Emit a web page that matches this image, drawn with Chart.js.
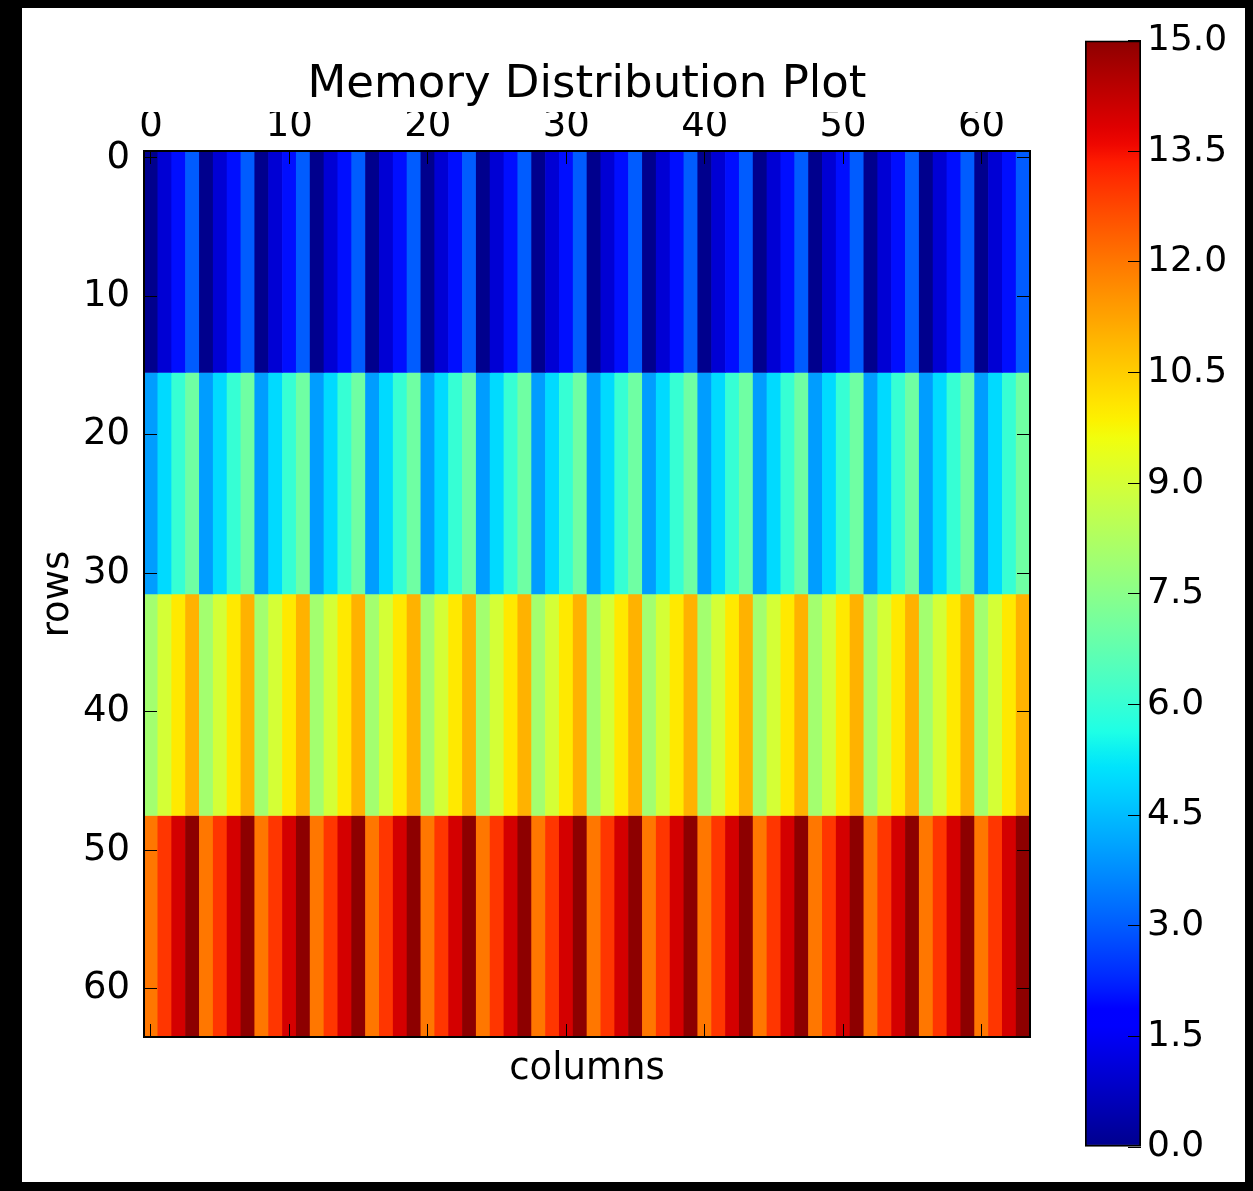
<!DOCTYPE html>
<html>
<head>
<meta charset="utf-8">
<title>Memory Distribution Plot</title>
<script src="https://cdn.jsdelivr.net/npm/chart.js@4.4.1/dist/chart.umd.min.js"></script>
<style>
  html, body { margin: 0; padding: 0; background: #000; }
  #page { position: relative; width: 1253px; height: 1191px; background: #000; overflow: hidden; }
  #sheet { position: absolute; left: 22px; top: 8px; width: 1223px; height: 1174px; background: #fff; }
  #heat { position: absolute; left: 0; top: 0; }
  #cbar { position: absolute; left: 1060px; top: 0; }
</style>
</head>
<body>
<div id="page">
  <div id="sheet"></div>
  <canvas id="heat" width="1060" height="1191"></canvas>
  <canvas id="cbar" width="193" height="1191"></canvas>
</div>
<script>
// chart text
const plotTitle = 'Memory Distribution Plot';
const xLabel = 'columns';
const yLabel = 'rows';

// row ranges of the four horizontal bands (row indices, inclusive)
const bandRows = [[0, 15], [16, 31], [32, 47], [48, 63]];

// value of every column, one list per band
const band0 = [
  0, 1, 2, 3, 0, 1, 2, 3, 0, 1, 2, 3, 0, 1, 2, 3,
  0, 1, 2, 3, 0, 1, 2, 3, 0, 1, 2, 3, 0, 1, 2, 3,
  0, 1, 2, 3, 0, 1, 2, 3, 0, 1, 2, 3, 0, 1, 2, 3,
  0, 1, 2, 3, 0, 1, 2, 3, 0, 1, 2, 3, 0, 1, 2, 3
];
const band1 = [
  4, 5, 6, 7, 4, 5, 6, 7, 4, 5, 6, 7, 4, 5, 6, 7,
  4, 5, 6, 7, 4, 5, 6, 7, 4, 5, 6, 7, 4, 5, 6, 7,
  4, 5, 6, 7, 4, 5, 6, 7, 4, 5, 6, 7, 4, 5, 6, 7,
  4, 5, 6, 7, 4, 5, 6, 7, 4, 5, 6, 7, 4, 5, 6, 7
];
const band2 = [
  8, 9, 10, 11, 8, 9, 10, 11, 8, 9, 10, 11, 8, 9, 10, 11,
  8, 9, 10, 11, 8, 9, 10, 11, 8, 9, 10, 11, 8, 9, 10, 11,
  8, 9, 10, 11, 8, 9, 10, 11, 8, 9, 10, 11, 8, 9, 10, 11,
  8, 9, 10, 11, 8, 9, 10, 11, 8, 9, 10, 11, 8, 9, 10, 11
];
const band3 = [
  12, 13, 14, 15, 12, 13, 14, 15, 12, 13, 14, 15, 12, 13, 14, 15,
  12, 13, 14, 15, 12, 13, 14, 15, 12, 13, 14, 15, 12, 13, 14, 15,
  12, 13, 14, 15, 12, 13, 14, 15, 12, 13, 14, 15, 12, 13, 14, 15,
  12, 13, 14, 15, 12, 13, 14, 15, 12, 13, 14, 15, 12, 13, 14, 15
];
const bandValues = [band0, band1, band2, band3];

// axis ticks
const xTicks = [0, 10, 20, 30, 40, 50, 60];
const yTicks = [0, 10, 20, 30, 40, 50, 60];
const gridRange = [-0.5, 63.5];
const cbRange = [0, 15];
const cbTicks = [0, 1.5, 3, 4.5, 6, 7.5, 9, 10.5, 12, 13.5, 15];

const FONT = "'DejaVu Sans', 'Bitstream Vera Sans', sans-serif";

// matplotlib "jet" colormap (slightly lightened to match the screenshot's tone)
const JET = {
  r: [[0, 0], [0.35, 0], [0.66, 1], [0.89, 1], [1, 0.5]],
  g: [[0, 0], [0.125, 0], [0.375, 1], [0.64, 1], [0.91, 0], [1, 0]],
  b: [[0, 0.5], [0.11, 1], [0.34, 1], [0.65, 0], [1, 0]]
};
const TONE = 0.85;
function channel(pts, t) {
  for (let i = 1; i < pts.length; i++) {
    if (t <= pts[i][0]) {
      const [x0, y0] = pts[i - 1];
      const [x1, y1] = pts[i];
      return y0 + (y1 - y0) * (t - x0) / (x1 - x0);
    }
  }
  return pts[pts.length - 1][1];
}
function jet(t) {
  t = Math.max(0, Math.min(1, t));
  const c = k => Math.round(255 * Math.pow(channel(JET[k], t), TONE));
  return `rgb(${c('r')},${c('g')},${c('b')})`;
}
function colorFor(v) {
  return jet((v - cbRange[0]) / (cbRange[1] - cbRange[0]));
}

function fixTicks(list) {
  return axis => { axis.ticks = list.map(v => ({ value: v })); };
}

// inward tick marks, drawn above the cells
const tickGrid = { drawOnChartArea: false, drawTicks: true, tickLength: -13, color: '#000', lineWidth: 1, offset: false, z: 1 };
const frame = { display: true, color: '#000', width: 2, z: 1 };
const tickFont = { family: FONT, size: 37 };

const datasets = bandValues.map((values, b) => ({
  label: 'rows ' + bandRows[b][0] + '-' + bandRows[b][1],
  data: values.map((v, c) => ({ x: c, y: [bandRows[b][0] - 0.5, bandRows[b][1] + 0.5] })),
  backgroundColor: values.map(colorFor),
  borderWidth: 0,
  grouped: false,
  barPercentage: 1,
  categoryPercentage: 1
}));

new Chart(document.getElementById('heat'), {
  type: 'bar',
  data: { datasets },
  options: {
    responsive: false,
    animation: false,
    events: [],
    layout: { padding: { left: 22, top: 8, right: 20, bottom: 84 } },
    plugins: {
      legend: { display: false },
      tooltip: { enabled: false },
      title: {
        display: true,
        text: plotTitle,
        fullSize: false,
        color: '#000',
        font: { family: FONT, size: 45, weight: 'normal' },
        padding: { top: 50, bottom: 0 }
      }
    },
    scales: {
      x: {
        type: 'linear', position: 'top', min: gridRange[0], max: gridRange[1], offset: false,
        grid: tickGrid, border: frame,
        afterBuildTicks: fixTicks(xTicks),
        ticks: { padding: 15, color: '#000', font: tickFont, maxRotation: 0, autoSkip: false, callback: v => String(v) },
        afterFit: s => { s.height = 39; }
      },
      x2: {
        type: 'linear', position: 'bottom', min: gridRange[0], max: gridRange[1], offset: false,
        grid: tickGrid, border: frame,
        afterBuildTicks: fixTicks(xTicks),
        ticks: { display: false },
        title: { display: true, text: xLabel, color: '#000', font: tickFont, padding: { top: 0, bottom: 15 } },
        afterFit: s => { s.height = 70; }
      },
      y: {
        type: 'linear', position: 'left', reverse: true, min: gridRange[0], max: gridRange[1], offset: false,
        grid: tickGrid, border: frame,
        afterBuildTicks: fixTicks(yTicks),
        ticks: { padding: 27, color: '#000', font: tickFont, autoSkip: false, callback: v => String(v) },
        title: { display: true, text: yLabel, color: '#000', font: tickFont, padding: { top: 14, bottom: 0 } },
        afterFit: s => { s.width = 122; }
      },
      y2: {
        type: 'linear', position: 'right', reverse: true, min: gridRange[0], max: gridRange[1], offset: false,
        grid: tickGrid, border: frame,
        afterBuildTicks: fixTicks(yTicks),
        ticks: { display: false },
        afterFit: s => { s.width = 10; }
      }
    }
  }
});

// colour bar
new Chart(document.getElementById('cbar'), {
  type: 'bar',
  data: {
    labels: [''],
    datasets: [{
      data: [cbRange],
      backgroundColor: ctx => {
        const chart = ctx.chart;
        const ys = chart.scales.y;
        if (!chart.chartArea || !ys) return '#000';
        const g = chart.ctx.createLinearGradient(0, ys.getPixelForValue(cbRange[0]), 0, ys.getPixelForValue(cbRange[1]));
        for (let i = 0; i <= 64; i++) g.addColorStop(i / 64, jet(i / 64));
        return g;
      },
      borderColor: '#000',
      borderWidth: 2,
      borderSkipped: false,
      barPercentage: 1,
      categoryPercentage: 1
    }]
  },
  options: {
    responsive: false,
    animation: false,
    events: [],
    layout: { padding: { left: 25, top: 40, right: 0, bottom: 44 } },
    plugins: { legend: { display: false }, tooltip: { enabled: false }, title: { display: false } },
    scales: {
      x: { display: false },
      y: {
        type: 'linear', position: 'right', min: cbRange[0], max: cbRange[1],
        grid: tickGrid, border: { display: false },
        afterBuildTicks: fixTicks(cbTicks),
        ticks: { padding: 19, color: '#000', font: { family: FONT, size: 36 }, autoSkip: false, callback: v => Number(v).toFixed(1) },
        afterFit: s => { s.width = 112; }
      }
    }
  }
});
</script>
</body>
</html>
